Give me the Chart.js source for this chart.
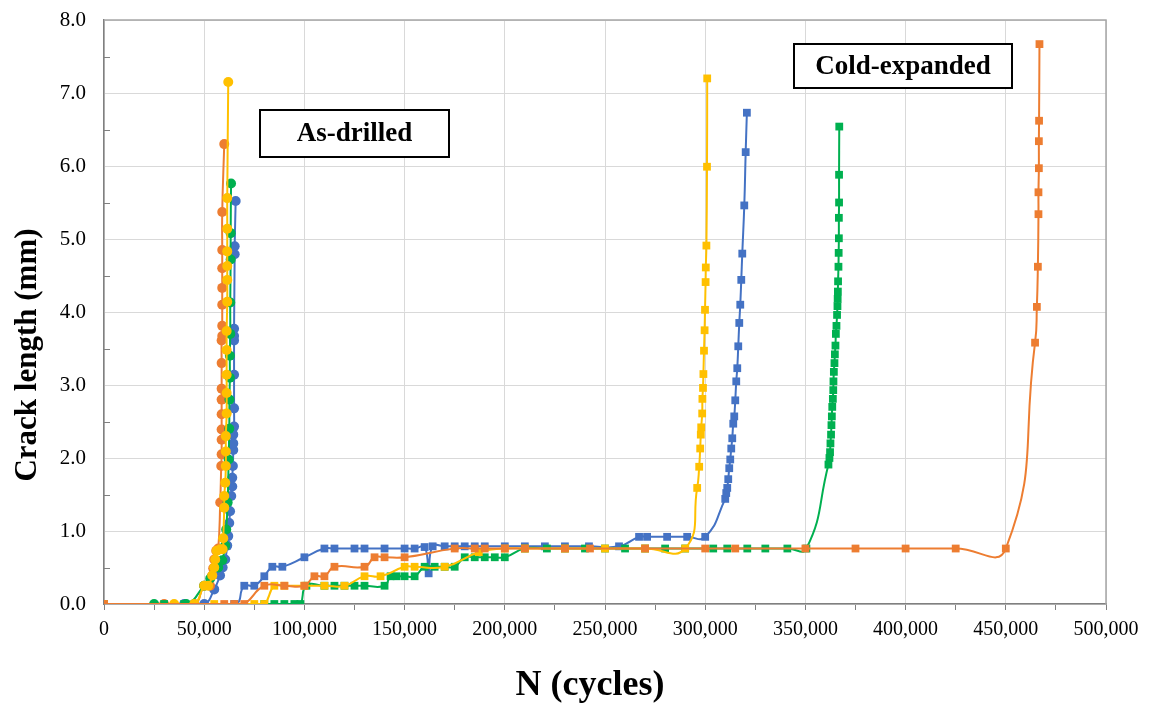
<!doctype html>
<html lang="en">
  <head>
    <meta charset="UTF-8" />
    <title>Crack length vs N</title>
    <script src="https://cdn.jsdelivr.net/npm/chart.js@4.4.1/dist/chart.umd.min.js"></script>
    <style>
      html, body { margin: 0; padding: 0; background: #fff; }
      #wrap { width: 1160px; height: 704px; }
    </style>
  </head>
  <body>
    <div id="wrap"><canvas id="chart" width="1160" height="704"></canvas></div>
    <script>
      // As-drilled specimens (circles)
      const adBlueN = [40000, 50000, 55000, 57900, 59200, 60500, 61500, 62000, 62500, 62900, 63500, 64000, 64000, 64300, 64500, 64500, 64500, 64900, 64900, 64900, 64900, 64900, 64900, 65200, 65200, 65700];
      const adBlueL = [0, 0, 0.2, 0.39, 0.5, 0.61, 0.8, 0.93, 1.11, 1.27, 1.48, 1.61, 1.73, 1.89, 2.11, 2.2, 2.32, 2.43, 2.68, 3.14, 3.61, 3.67, 3.77, 4.79, 4.9, 5.52];

      const adOrangeN = [30000, 45000, 50000, 52900, 54000, 54500, 55000, 56000, 57000, 58000, 58500, 58700, 58700, 58700, 58700, 58700, 58700, 58700, 58700, 59000, 59000, 59000, 59000, 59000, 59000, 59000, 60000];
      const adOrangeL = [0, 0, 0.25, 0.25, 0.39, 0.49, 0.61, 0.73, 0.76, 1.39, 1.89, 2.05, 2.25, 2.39, 2.6, 2.8, 2.95, 3.3, 3.61, 3.67, 3.81, 4.1, 4.33, 4.6, 4.85, 5.37, 6.3];

      const adGreenN = [25000, 41000, 50000, 53000, 57000, 59000, 60500, 61000, 61700, 62200, 62500, 62600, 62800, 62800, 63000, 63000, 63200, 63200, 63400];
      const adGreenL = [0, 0, 0.25, 0.35, 0.5, 0.6, 0.8, 1.02, 1.39, 1.98, 2.4, 2.8, 3.1, 3.4, 3.7, 4.13, 4.72, 5.08, 5.76];

      const adYellowN = [35000, 45000, 50000, 52000, 54000, 55000, 55500, 56200, 58000, 59200, 59500, 60000, 60000, 60500, 60800, 60800, 60800, 61200, 61200, 61200, 61200, 61200, 61500, 61500, 61500, 61500, 61500, 61500, 62000];
      const adYellowL = [0, 0, 0.25, 0.25, 0.39, 0.5, 0.61, 0.73, 0.75, 0.75, 0.9, 1.32, 1.48, 1.66, 1.89, 2.09, 2.3, 2.61, 2.89, 3.14, 3.48, 3.74, 4.14, 4.44, 4.63, 4.83, 5.14, 5.56, 7.15];

      // Cold-expanded specimens (squares)
      const ceBlueN = [0, 65000, 70000, 75000, 80000, 84000, 89000, 100000,
        110000, 115000, 125000, 130000, 140000, 150000, 155000, 160000, 162000,
        164000, 170000, 175000, 180000, 185000, 190000, 200000, 210000, 220000, 230000, 242000, 257000,
        267000, 271000, 281000, 291000, 300000,
        310000, 310500, 311000, 311500, 312000, 312500, 313000, 313500, 314000, 314500, 315000,
        315500, 316000, 316500, 317000, 317500, 318000, 318500, 319500, 320200, 320800];
      const ceBlueL = [0, 0, 0.25, 0.25, 0.38, 0.51, 0.51, 0.64,
        0.76, 0.76, 0.76, 0.76, 0.76, 0.76, 0.76, 0.78, 0.42,
        0.79, 0.79, 0.79, 0.79, 0.79, 0.79, 0.79, 0.79, 0.79, 0.79, 0.79, 0.79,
        0.92, 0.92, 0.92, 0.92, 0.92,
        1.44, 1.52, 1.59, 1.71, 1.86, 1.98, 2.13, 2.27, 2.47, 2.57, 2.79,
        3.05, 3.23, 3.53, 3.85, 4.1, 4.44, 4.8, 5.46, 6.19, 6.73];

      const ceYellowN = [0, 55000, 75000, 80000, 85000, 90000, 100000, 110000, 120000,
        130000, 138000, 150000, 155000, 170000, 187000,
        200000, 210000, 230000, 250000, 270000, 290000,
        296000, 297000, 297500, 297800, 298000, 298500, 298600, 298900,
        299100, 299400, 299700, 299900, 300200, 300300, 300600, 300900, 301000];
      const ceYellowL = [0, 0, 0, 0, 0.25, 0.25, 0.25, 0.25, 0.25,
        0.38, 0.38, 0.51, 0.51, 0.51, 0.71,
        0.76, 0.76, 0.76, 0.76, 0.76, 0.76,
        1.59, 1.88, 2.13, 2.32, 2.42, 2.61, 2.81, 2.96,
        3.15, 3.47, 3.75, 4.03, 4.41, 4.61, 4.91, 5.99, 7.2];

      const ceGreenN = [0, 30000, 40000, 80000, 85000, 90000, 95000, 98000,
        101000, 110000, 115000, 120000, 125000, 130000, 140000,
        143000, 146000, 150000, 155000,
        160000, 165000, 170000, 175000,
        180000, 185000, 190000, 195000, 200000,
        210000, 221000, 230000, 240000, 250000, 260000, 270000, 280000, 290000, 304000, 311000, 321000, 330000, 341000, 350500,
        361500, 362000, 362300, 362500, 362800, 363000, 363200, 363400, 363700, 363900,
        364000, 364200, 364500, 364700, 365000, 365200, 365500, 365800, 366000, 366100,
        366200, 366300, 366500, 366600, 366700, 366700, 366800, 366800, 366900];
      const ceGreenL = [0, 0, 0, 0, 0, 0, 0, 0,
        0.25, 0.25, 0.25, 0.25, 0.25, 0.25, 0.25,
        0.38, 0.38, 0.38, 0.38,
        0.51, 0.51, 0.51, 0.51,
        0.64, 0.64, 0.64, 0.64, 0.64,
        0.76, 0.76, 0.76, 0.76, 0.76, 0.76, 0.76, 0.76, 0.76, 0.76, 0.76, 0.76, 0.76, 0.76, 0.76,
        1.91, 2.0, 2.08, 2.2, 2.32, 2.45, 2.57, 2.7, 2.81, 2.93,
        3.05, 3.18, 3.3, 3.42, 3.54, 3.7, 3.81, 3.96, 4.08, 4.18,
        4.28, 4.42, 4.62, 4.81, 5.01, 5.29, 5.5, 5.88, 6.54];

      const ceOrangeN = [0, 60000, 65000, 70000, 80000, 90000, 100000, 105000,
        110000, 115000, 130000, 135000, 140000, 150000,
        175000, 185000, 190000, 200000, 210000, 230000, 242500, 270000, 300000, 315000, 350000, 375000, 400000, 425000, 450000,
        464600, 465500, 466000, 466300, 466300, 466500, 466500, 466600, 466800];
      const ceOrangeL = [0, 0, 0, 0, 0.25, 0.25, 0.25, 0.38,
        0.38, 0.51, 0.51, 0.64, 0.64, 0.64,
        0.76, 0.76, 0.76, 0.76, 0.76, 0.76, 0.76, 0.76, 0.76, 0.76, 0.76, 0.76, 0.76, 0.76, 0.76,
        3.58, 4.07, 4.62, 5.34, 5.64, 5.97, 6.34, 6.62, 7.67];

      const BLUE = "#4472C4";
      const ORANGE = "#ED7D31";
      const YELLOW = "#FFC000";
      const GREEN = "#00B050";
      const SERIF = "'Liberation Serif', 'Times New Roman', serif";

      function series(n, l, color, style) {
        return {
          data: n.map((x, i) => ({ x: x, y: l[i] })),
          borderColor: color,
          backgroundColor: color,
          borderWidth: 2,
          pointStyle: style,
          pointRadius: style === "rect" ? 5.5 : 5,
          pointBorderWidth: 0,
          tension: 0.5,
        };
      }

      // first dataset is drawn on top
      const datasets = [
        series(ceOrangeN, ceOrangeL, ORANGE, "rect"),
        series(ceYellowN, ceYellowL, YELLOW, "rect"),
        series(ceGreenN, ceGreenL, GREEN, "rect"),
        series(ceBlueN, ceBlueL, BLUE, "rect"),
        series(adYellowN, adYellowL, YELLOW, "circle"),
        series(adGreenN, adGreenL, GREEN, "circle"),
        series(adOrangeN, adOrangeL, ORANGE, "circle"),
        series(adBlueN, adBlueL, BLUE, "circle"),
      ];

      const notes = [
        { text: "As-drilled", x: 260, y: 110, w: 189, h: 47 },
        { text: "Cold-expanded", x: 794, y: 44, w: 218, h: 44 },
      ];

      const decorations = {
        id: "decorations",
        beforeDatasetsDraw(chart) {
          const { ctx, chartArea: a, scales } = chart;
          ctx.save();
          ctx.strokeStyle = "#a6a6a6";
          ctx.lineWidth = 1.5;
          ctx.beginPath();
          ctx.moveTo(a.left, a.top);
          ctx.lineTo(a.right, a.top);
          ctx.lineTo(a.right, a.bottom);
          ctx.stroke();
          // small inside ticks on the y axis at the half steps
          ctx.strokeStyle = "#808080";
          ctx.lineWidth = 1;
          for (let v = 0.5; v < 8; v += 1) {
            const py = Math.round(scales.y.getPixelForValue(v)) + 0.5;
            ctx.beginPath();
            ctx.moveTo(a.left, py);
            ctx.lineTo(a.left + 6, py);
            ctx.stroke();
          }
          ctx.restore();
        },
        afterDraw(chart) {
          const ctx = chart.ctx;
          ctx.save();
          ctx.textAlign = "center";
          ctx.textBaseline = "middle";
          notes.forEach((n) => {
            ctx.fillStyle = "#fff";
            ctx.fillRect(n.x, n.y, n.w, n.h);
            ctx.strokeStyle = "#000";
            ctx.lineWidth = 2;
            ctx.strokeRect(n.x, n.y, n.w, n.h);
            ctx.fillStyle = "#000";
            ctx.font = "bold 27px " + SERIF;
            ctx.fillText(n.text, n.x + n.w / 2, n.y + n.h / 2 + 1);
          });
          // axis titles
          ctx.fillStyle = "#000";
          ctx.font = "bold 36px " + SERIF;
          ctx.fillText("N (cycles)", 590, 686);
          ctx.translate(28, 355);
          ctx.rotate(-Math.PI / 2);
          ctx.font = "bold 31px " + SERIF;
          ctx.fillText("Crack length (mm)", 0, 0);
          ctx.restore();
        },
      };

      new Chart(document.getElementById("chart"), {
        type: "line",
        data: { datasets: datasets },
        plugins: [decorations],
        options: {
          responsive: false,
          animation: false,
          layout: { padding: { top: 20, right: 54, left: 0, bottom: 0 } },
          plugins: {
            legend: { display: false },
            tooltip: { enabled: false },
          },
          scales: {
            x: {
              type: "linear",
              min: 0,
              max: 500000,
              afterFit: (s) => { s.height = 100; },
              ticks: {
                stepSize: 25000,
                autoSkip: false,
                maxRotation: 0,
                color: "#000",
                padding: 8,
                font: { family: SERIF, size: 20 },
                callback: (v) => (v % 50000 === 0 ? v.toLocaleString("en-US") : ""),
              },
              grid: {
                color: (c) => (c.tick && c.tick.value % 50000 === 0 ? "#d9d9d9" : "rgba(0,0,0,0)"),
                tickColor: "#808080",
                tickLength: 6,
              },
              border: { color: "#808080", width: 1.5 },
            },
            y: {
              min: 0,
              max: 8,
              afterFit: (s) => {
                s.width = 104;
                s.paddingTop = 0;
                s.paddingBottom = 0;
              },
              ticks: {
                stepSize: 0.5,
                color: "#000",
                padding: 18,
                font: { family: SERIF, size: 21 },
                callback: (v) => (Number.isInteger(v) ? v.toFixed(1) : ""),
              },
              grid: {
                color: (c) => (c.tick && Number.isInteger(c.tick.value) ? "#d9d9d9" : "rgba(0,0,0,0)"),
                drawTicks: false,
              },
              border: { color: "#808080", width: 1.5 },
            },
          },
        },
      });
    </script>
  </body>
</html>
